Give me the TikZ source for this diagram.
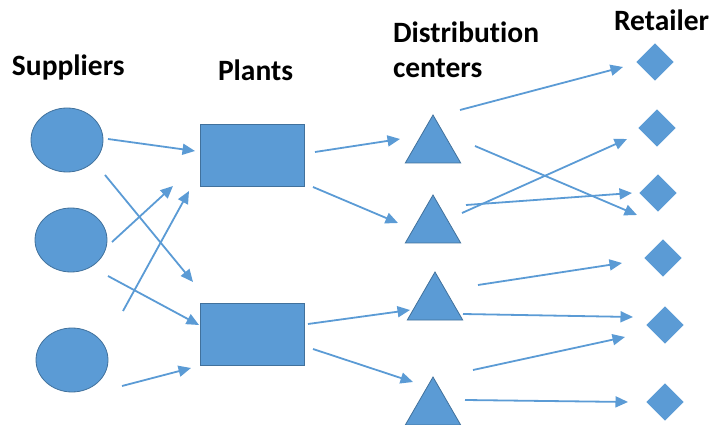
\documentclass[tikz,border=0pt]{standalone}
\usepackage{fontspec}
\setmainfont{Carlito}[Ligatures=CommonOff]
\usetikzlibrary{shapes.geometric,arrows.meta}
\definecolor{boxblue}{HTML}{5B9BD5}
\definecolor{edgeblue}{HTML}{41719C}
\tikzstyle{every node}=[inner sep=0, outer sep=0]
\tikzstyle{title}=[font=\fontsize{29.5}{35}\selectfont\bfseries, anchor=base west]
\tikzstyle{unit}=[fill=boxblue, draw=edgeblue, line width=.8pt]
\tikzstyle{supplier}=[unit, ellipse, minimum width=72pt, minimum height=64pt]
\tikzstyle{plant}=[unit, rectangle, minimum width=104pt, minimum height=62pt]
\tikzstyle{center}=[unit, regular polygon, regular polygon sides=3, minimum size=64pt]
\tikzstyle{retailer}=[unit, draw=boxblue, diamond, minimum width=36pt, minimum height=36pt]
\tikzstyle{flow}=[-{Triangle[length=12.5pt,width=11pt]}, boxblue, line width=1.8pt]

\begin{document}
\begin{tikzpicture}[x=1pt, y=-1pt]
    \useasboundingbox (0, 0) rectangle (713, 425);
    % headings
    \node[title] (suptitle) at (12, 76) {Suppliers};
    \node[title] (planttitle) at (218, 81) {Plants};
    \node[title, anchor=north west, align=left] (dctitle) at (393, 22) {Distribution\\centers};
    \node[title] (rettitle) at (614, 31) {Retailer};
    % suppliers
    \node[supplier] (sup1) at (67, 140) {};
    \node[supplier] (sup2) at (71, 240) {};
    \node[supplier] (sup3) at (72, 360) {};
    % plants
    \node[plant] (plant1) at (252, 155) {};
    \node[plant] (plant2) at (252, 334.5) {};
    % distribution centers
    \node[center] (dc1) at (433, 147) {};
    \node[center] (dc2) at (433, 227) {};
    \node[center] (dc3) at (435, 304) {};
    \node[center] (dc4) at (433, 409) {};
    % retailers
    \node[retailer] (ret1) at (655, 62) {};
    \node[retailer] (ret2) at (657, 128) {};
    \node[retailer] (ret3) at (658, 193) {};
    \node[retailer] (ret4) at (663, 258) {};
    \node[retailer] (ret5) at (665, 325) {};
    \node[retailer] (ret6) at (665, 402) {};
    % suppliers -> plants
    \draw[flow] ([shift={(41,-1)}]sup1.center) -- ([shift={(-57,-4)}]plant1.center);
    \draw[flow] ([shift={(38,35)}]sup1.center) -- ([shift={(-59,-52.5)}]plant2.center);
    \draw[flow] ([shift={(41,2)}]sup2.center) -- ([shift={(-79,31)}]plant1.center);
    \draw[flow] ([shift={(37,36)}]sup2.center) -- ([shift={(-53,-9.5)}]plant2.center);
    \draw[flow] ([shift={(51,-49)}]sup3.center) -- ([shift={(-63,36)}]plant1.center);
    \draw[flow] ([shift={(50,26)}]sup3.center) -- ([shift={(-61,33.5)}]plant2.center);
    % plants -> distribution centers
    \draw[flow] ([shift={(63,-3)}]plant1.center) -- ([shift={(-33,-8)}]dc1.center);
    \draw[flow] ([shift={(61,32)}]plant1.center) -- ([shift={(-35,-4)}]dc2.center);
    \draw[flow] ([shift={(56,-10.5)}]plant2.center) -- ([shift={(-25,6)}]dc3.center);
    \draw[flow] ([shift={(61,14.5)}]plant2.center) -- ([shift={(-20,-27)}]dc4.center);
    % distribution centers -> retailers
    \draw[flow] ([shift={(27,-37)}]dc1.center) -- ([shift={(-32,5)}]ret1.center);
    \draw[flow] ([shift={(42,-1)}]dc1.center) -- ([shift={(-21,22)}]ret3.center);
    \draw[flow] ([shift={(29,-14)}]dc2.center) -- ([shift={(-30,11)}]ret2.center);
    \draw[flow] ([shift={(33,-22)}]dc2.center) -- ([shift={(-26,0)}]ret3.center);
    \draw[flow] ([shift={(43,-19)}]dc3.center) -- ([shift={(-41,5)}]ret4.center);
    \draw[flow] ([shift={(28,10)}]dc3.center) -- ([shift={(-32,-8)}]ret5.center);
    \draw[flow] ([shift={(40,-39)}]dc4.center) -- ([shift={(-40,12)}]ret5.center);
    \draw[flow] ([shift={(32,-9)}]dc4.center) -- ([shift={(-37,0)}]ret6.center);
\end{tikzpicture}
\end{document}
